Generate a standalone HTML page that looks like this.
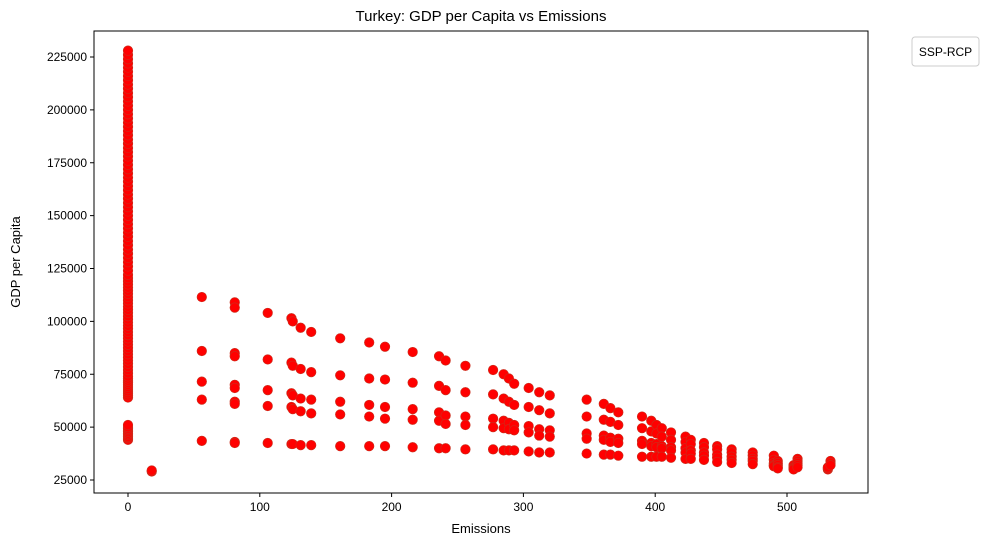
<!DOCTYPE html>
<html><head><meta charset="utf-8"><style>
body{margin:0;background:#fff;}
svg text{font-family:"Liberation Sans","DejaVu Sans",sans-serif;fill:#000;}
</style></head><body>
<svg id="chart" width="989" height="545" xmlns="http://www.w3.org/2000/svg">
<rect width="989" height="545" fill="#fff"/>
<text x="481" y="21" font-size="15" text-anchor="middle">Turkey: GDP per Capita vs Emissions</text>
<g id="marks"></g>
<g id="axes"></g>
<rect x="94" y="31" width="774" height="462" fill="none" stroke="#000" stroke-width="1"/>
<text x="481" y="533" font-size="13" text-anchor="middle">Emissions</text>
<text x="20" y="262" font-size="13" text-anchor="middle" transform="rotate(-90 20 262)">GDP per Capita</text>
<g>
<rect x="912" y="37" width="67" height="29" rx="3" fill="#fff" stroke="#ccc"/>
<text x="945.5" y="56" font-size="12" text-anchor="middle">SSP-RCP</text>
</g>
</svg>
<script>
const xTicks=[0,100,200,300,400,500];
const yTicks=[25000,50000,75000,100000,125000,150000,175000,200000,225000];
const zeroColumnGdp=[44000,44800,45500,46300,47000,47800,48500,49300,50000,51000,64000,65000,66000,67000,68000,69000,70000,71000,72000,73000,74000,75500,77000,78500,80000,81500,83000,84500,86000,87500,89000,90500,92000,93500,95000,96500,98000,99500,101000,102500,104000,105500,107000,108500,110000,111500,113000,114500,116000,117500,119000,120500,122000,124000,126000,128000,130000,132000,134000,136000,138000,140000,142000,144000,146000,148000,150000,152000,154000,156000,158000,160000,162000,164000,166000,168000,170000,172000,174000,176000,178000,180000,182000,184000,186000,188000,190000,192000,194000,196000,198000,200000,202000,204000,206000,208000,210000,212000,214000,216000,218000,220000,222000,224000,226000,228000];
const columnEmissions=[18,56,81,81,106,124,125,131,139,161,183,195,216,236,241,256,277,285,289,293,304,312,320,348,361,366,372,390,397,401,405,412,423,427,437,447,458,474,490,493,505,508,531,533];
const columnGdp=[
[29000,29500],
[111500,86000,71500,63000,43500],
[109000,85000,70000,62000,43000],
[106500,83500,68500,61000,42500],
[104000,82000,67500,60000,42500],
[101500,80500,66000,59500,42000],
[100000,79000,65000,58500,42000],
[97000,77500,63500,57500,41500],
[95000,76000,63000,56500,41500],
[92000,74500,62000,56000,41000],
[90000,73000,60500,55000,41000],
[88000,72500,59500,54000,41000],
[85500,71000,58500,53500,40500],
[83500,69500,57000,53000,40000],
[81500,67500,55500,51500,40000],
[79000,66500,55000,51000,39500],
[77000,65500,54000,50000,39500],
[75000,63500,53000,49500,39000],
[73000,62000,52000,49000,39000],
[70500,60500,51000,48500,39000],
[68500,59500,50500,47500,38500],
[66500,58000,49000,46000,38000],
[65000,56500,48500,45500,38000],
[63000,55000,47000,44500,37500],
[61000,53500,46000,44000,37000],
[59000,52500,45000,43000,37000],
[57000,51000,44500,42500,36500],
[55000,49500,43500,42000,36000],
[53000,48000,42500,41000,36000],
[51000,47000,42000,40500,36000],
[49500,45500,41000,40000,36000],
[47500,44000,40500,39000,35500],
[45500,43000,40000,38000,35000],
[44000,42000,39000,37500,35000],
[42500,40500,38000,36500,34500],
[41000,39500,37000,35500,33500],
[39500,38000,36000,34500,33000],
[38000,36500,35000,34000,32500],
[36500,34500,33000,32000,31500],
[34000,33000,32000,31000,30500],
[32000,31000,30500,30000],
[35000,34000,33000,32000,31000],
[30000,30500,31000],
[34000,33000,32000]
];
const X0=94,X1=868,Y0=31,Y1=493;
function xs(v){return 128+v*(787-128)/500;}
function ys(v){return 480-(v-25000)*(480-57)/200000;}
const NS="http://www.w3.org/2000/svg";
const axes=document.getElementById('axes');
xTicks.forEach(t=>{
 const l=document.createElementNS(NS,'line');
 l.setAttribute('x1',xs(t));l.setAttribute('x2',xs(t));l.setAttribute('y1',Y1);l.setAttribute('y2',Y1+4);l.setAttribute('stroke','#000');
 
 
 axes.appendChild(l);
 const tx=document.createElementNS(NS,'text');
 tx.setAttribute('x',xs(t));tx.setAttribute('y',Y1+18);tx.setAttribute('font-size','12');tx.setAttribute('text-anchor','middle');tx.textContent=t;
 
 
 axes.appendChild(tx);
});
yTicks.forEach(t=>{
 const l=document.createElementNS(NS,'line');
 l.setAttribute('x1',X0-4);l.setAttribute('x2',X0);l.setAttribute('y1',ys(t));l.setAttribute('y2',ys(t));l.setAttribute('stroke','#000');
 
 
 axes.appendChild(l);
 const tx=document.createElementNS(NS,'text');
 tx.setAttribute('x',X0-7);tx.setAttribute('y',ys(t)+4);tx.setAttribute('font-size','12');tx.setAttribute('text-anchor','end');tx.textContent=t;
 
 
 axes.appendChild(tx);
});
const marks=document.getElementById('marks');
function dot(x,y){
 const c=document.createElementNS(NS,'circle');
 c.setAttribute('cx',xs(x));c.setAttribute('cy',ys(y));c.setAttribute('r','4.8');
 c.setAttribute('fill','#ff0000');c.setAttribute('stroke','#c8301e');c.setAttribute('stroke-width','0.6');
 
 
 marks.appendChild(c);
}
zeroColumnGdp.forEach(g=>dot(0,g));
columnEmissions.forEach((e,i)=>columnGdp[i].forEach(g=>dot(e,g)));
</script>
</body></html>
